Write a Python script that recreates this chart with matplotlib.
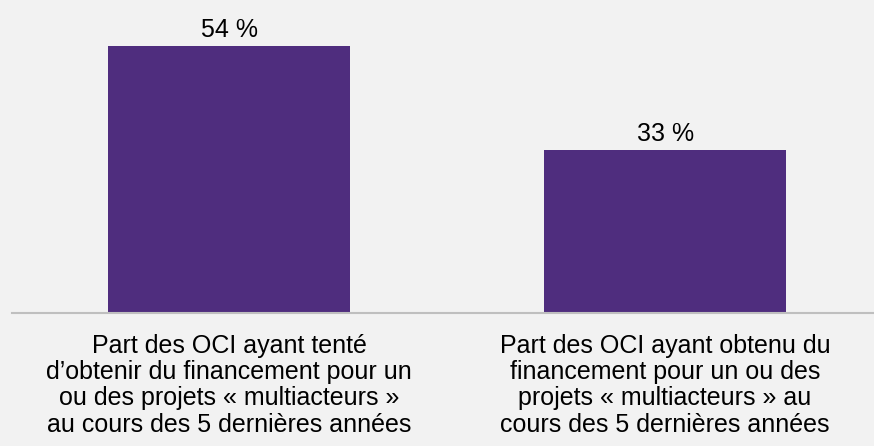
import matplotlib.pyplot as plt

plt.rcParams['font.family'] = ['Liberation Sans', 'DejaVu Sans']

categories = [
    "Part des OCI ayant tenté\nd\u2019obtenir du financement pour un\nou des projets « multiacteurs »\nau cours des 5 dernières années",
    "Part des OCI ayant obtenu du\nfinancement pour un ou des\nprojets « multiacteurs » au\ncours des 5 dernières années",
]
values = [54, 33]
value_labels = ["54 %", "33 %"]

bg = '#F2F2F2'
purple = '#4F2D7E'

fig = plt.figure(figsize=(8.74, 4.46), dpi=100, facecolor=bg)
ax = fig.add_axes([12 / 874, 133 / 446, 862 / 874, 313 / 446])
ax.set_facecolor(bg)

x = range(len(values))
bars = ax.bar(x, values, width=0.555, color=purple, zorder=2)

for xi, v, lab in zip(x, values, value_labels):
    ax.annotate(lab, xy=(xi, v), xytext=(0, 6.5), textcoords='offset points',
                ha='center', va='baseline', fontsize=18, color='#000000')

ax.set_xlim(-0.4977, 1.479)
ax.set_ylim(0, 63.2)

ax.set_xticks(list(x))
ax.set_xticklabels(categories, fontsize=18, linespacing=1.12, color='#000000')
ax.tick_params(axis='x', length=0, pad=15)
ax.set_yticks([])

for s in ['top', 'right', 'left']:
    ax.spines[s].set_visible(False)
ax.spines['bottom'].set_color('#BFBFBF')
ax.spines['bottom'].set_linewidth(1.5)

fig.savefig('out.png', dpi=100, facecolor=bg)
